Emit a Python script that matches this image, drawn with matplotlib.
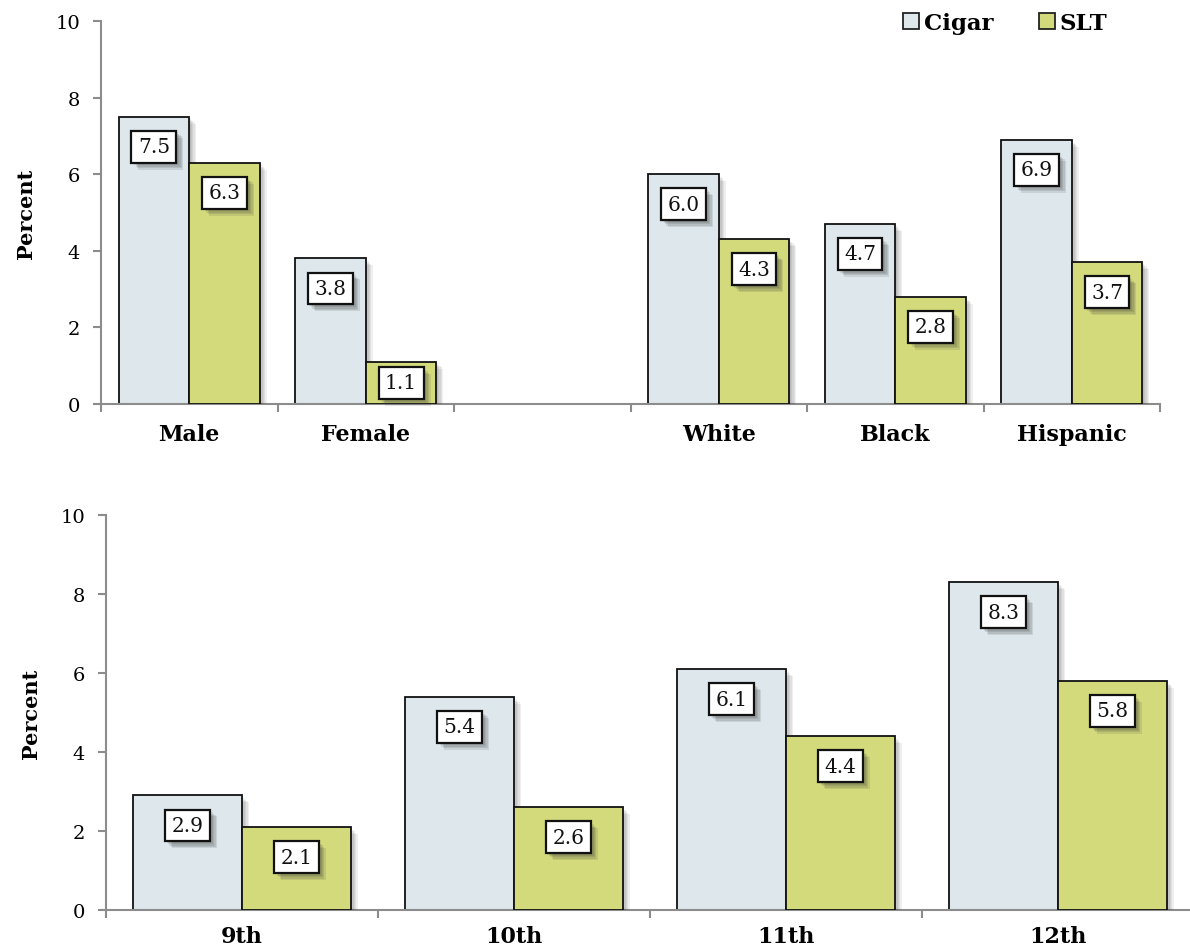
import matplotlib
matplotlib.use("Agg")
import matplotlib.pyplot as plt
from matplotlib import patheffects as pe
from matplotlib.patches import Patch

plt.rcParams["font.family"] = ["DejaVu Serif"]

# Current use by sex and race/ethnicity (blank slot separates the two groups)
top_labels = ["Male", "Female", "", "White", "Black", "Hispanic"]
top_cigar = [7.5, 3.8, None, 6.0, 4.7, 6.9]
top_slt = [6.3, 1.1, None, 4.3, 2.8, 3.7]

# Current use by grade
grade_labels = ["9th", "10th", "11th", "12th"]
grade_cigar = [2.9, 5.4, 6.1, 8.3]
grade_slt = [2.1, 2.6, 4.4, 5.8]

series_names = ["Cigar", "SLT"]
CIGAR_COLOR = "#dde7ec"
SLT_COLOR = "#d3da7b"
AXIS_GRAY = "#8c8c8c"


def soft_shadow(max_off, alpha):
    # stacked translucent offsets give a feathered drop shadow
    layers = [pe.SimplePatchShadow(offset=(k, -k), shadow_rgbFace="#333333", alpha=alpha)
              for k in range(1, max_off + 1)]
    return layers + [pe.Normal()]


bar_shadow = soft_shadow(5, 0.08)
box_shadow = soft_shadow(5, 0.12)

fig = plt.figure(figsize=(11.9, 9.53), dpi=100)


def label_bar(ax, x, v):
    # value box near the top of the bar; short bars get it centred
    ax_h_px = ax.get_position().height * fig.get_figheight() * fig.dpi
    px_per_unit = ax_h_px / 10.0
    bar_px = v * px_per_unit
    off_px = 30 if bar_px > 60 else bar_px / 2
    t = ax.annotate(f"{v:.1f}", xy=(x, v), xytext=(0, -off_px * 72 / fig.dpi),
                    textcoords="offset points", ha="center", va="center",
                    fontsize=14.5, color="#111111",
                    bbox=dict(boxstyle="square,pad=0.32", fc="white", ec="#111111", lw=1.6),
                    zorder=5)
    t.get_bbox_patch().set_path_effects(box_shadow)


def draw_panel(ax, labels, cigar, slt, label_pad):
    n = len(labels)
    w = 0.4
    for i, (c, s) in enumerate(zip(cigar, slt)):
        if c is None:
            continue
        xc = i + 0.5 - w / 2
        xs = i + 0.5 + w / 2
        b1 = ax.bar(xc, c, width=w, color=CIGAR_COLOR, edgecolor="#111111", lw=1.3, zorder=2)
        b2 = ax.bar(xs, s, width=w, color=SLT_COLOR, edgecolor="#111111", lw=1.3, zorder=3)
        for b in list(b1) + list(b2):
            b.set_path_effects(bar_shadow)
        label_bar(ax, xc, c)
        label_bar(ax, xs, s)
    ax.set_xlim(0, n)
    ax.set_ylim(0, 10)
    ax.set_yticks([0, 2, 4, 6, 8, 10])
    ax.set_xticks(range(n + 1))
    ax.set_xticklabels([])
    ax.set_xticks([i + 0.5 for i in range(n)], minor=True)
    ax.set_xticklabels(labels, minor=True, fontsize=16, fontweight="bold")
    ax.tick_params(axis="x", which="minor", length=0, pad=label_pad)
    ax.tick_params(axis="x", which="major", length=6, color=AXIS_GRAY, width=1.5)
    ax.tick_params(axis="y", length=6, color=AXIS_GRAY, width=1.5, labelsize=14, pad=9)
    for sp in ("top", "right"):
        ax.spines[sp].set_visible(False)
    for sp in ("left", "bottom"):
        ax.spines[sp].set_color(AXIS_GRAY)
        ax.spines[sp].set_linewidth(1.5)
    ax.set_ylabel("Percent", fontsize=15, fontweight="bold", labelpad=14)


ax1 = fig.add_axes([101 / 1190, 548 / 953, (1160 - 101) / 1190, (405 - 22) / 953])
draw_panel(ax1, top_labels, top_cigar, top_slt, 14)

ax2 = fig.add_axes([106 / 1190, 42 / 953, (1194 - 106) / 1190, (911 - 516) / 953])
draw_panel(ax2, grade_labels, grade_cigar, grade_slt, 11)

handles = [Patch(facecolor=CIGAR_COLOR, edgecolor="#222222", lw=1.3),
           Patch(facecolor=SLT_COLOR, edgecolor="#222222", lw=1.3)]
fig.legend(handles, series_names, loc="upper right", bbox_to_anchor=(1128 / 1190, 1.008),
           ncol=2, frameon=False, prop={"weight": "bold", "size": 16.5},
           handlelength=0.7, handleheight=0.7, handletextpad=0.2, columnspacing=2.0)

fig.savefig("out.png", dpi=100)
